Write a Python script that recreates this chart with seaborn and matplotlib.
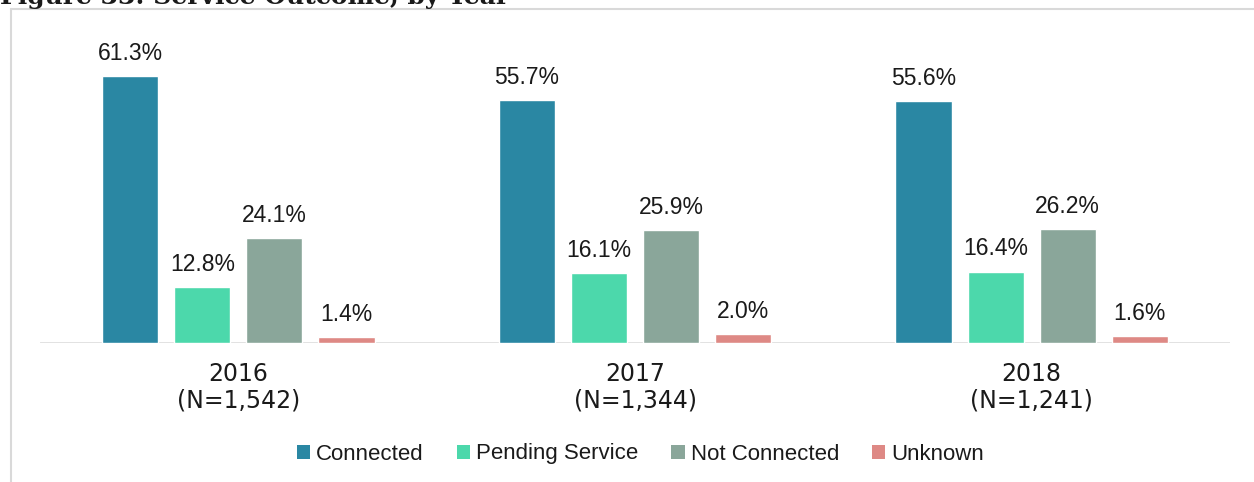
import matplotlib
matplotlib.use("Agg")
import matplotlib.pyplot as plt
from matplotlib.lines import Line2D
from matplotlib.patches import Patch
import seaborn as sns
import pandas as pd

# Service outcome shares (%) per year
years = ["2016", "2017", "2018"]
sample_sizes = ["1,542", "1,344", "1,241"]
outcomes = ["Connected", "Pending Service", "Not Connected", "Unknown"]
connected = [61.3, 55.7, 55.6]
pending_service = [12.8, 16.1, 16.4]
not_connected = [24.1, 25.9, 26.2]
unknown = [1.4, 2.0, 1.6]
colors = ["#2A87A3", "#4CD8AB", "#8AA69A", "#DE8985"]

series = [connected, pending_service, not_connected, unknown]
rows = []
for outcome, values in zip(outcomes, series):
    for year, v in zip(years, values):
        rows.append({"year": year, "outcome": outcome, "pct": v})
df = pd.DataFrame(rows)

sns.set_theme(style="white")
plt.rcParams["font.family"] = ["Liberation Sans", "DejaVu Sans"]

fig = plt.figure(figsize=(12.54, 4.82), dpi=100)
ax = fig.add_axes([40 / 1254, 139 / 482, 1190 / 1254, 305 / 482])

sns.barplot(data=df, x="year", y="pct", hue="outcome", hue_order=outcomes,
            order=years, palette=colors, width=0.727, gap=0.222,
            saturation=1, ax=ax, legend=False, errorbar=None)

for container in ax.containers:
    ax.bar_label(container, fmt="%.1f%%", padding=8, fontsize=16.5, color="#1a1a1a")

ax.set_xlim(-0.5, 2.5)
ax.set_ylim(0, 70)
ax.axhline(0, color="#d9d9d9", lw=1.8, zorder=0)
for s in ax.spines.values():
    s.set_visible(False)
ax.set_yticks([])
ax.set_xlabel("")
ax.set_ylabel("")
ax.set_xticks(range(len(years)))
ax.set_xticklabels([f"{y}\n(N={n})" for y, n in zip(years, sample_sizes)],
                   fontsize=17, color="#1a1a1a", linespacing=1.1,
                   family=["DejaVu Sans"])
ax.tick_params(axis="x", length=0, pad=14)

handles = [Patch(facecolor=c, edgecolor="none") for c in colors]
fig.legend(handles, outcomes, loc="center", bbox_to_anchor=(640.5 / 1254, 1 - 454 / 482),
           ncol=4, frameon=False, fontsize=16, handlelength=0.59, handleheight=0.59,
           handletextpad=0.27, columnspacing=1.49, labelcolor="#1a1a1a",
           borderpad=0, borderaxespad=0)

# Outer frame (top and left edges visible)
frame_color = "#d9d9d9"
fig.add_artist(Line2D([11 / 1254, 1.0], [1 - 9 / 482, 1 - 9 / 482],
                      color=frame_color, lw=1.5, transform=fig.transFigure))
fig.add_artist(Line2D([11 / 1254, 11 / 1254], [0, 1 - 9 / 482],
                      color=frame_color, lw=1.5, transform=fig.transFigure))

fig.text(0.0, 1 - 4 / 482, "Figure 33: Service Outcome, by Year", ha="left", va="baseline",
         fontsize=18, fontweight="bold", family=["DejaVu Serif"], color="#1a1a1a")

fig.savefig("out.png", dpi=100)
